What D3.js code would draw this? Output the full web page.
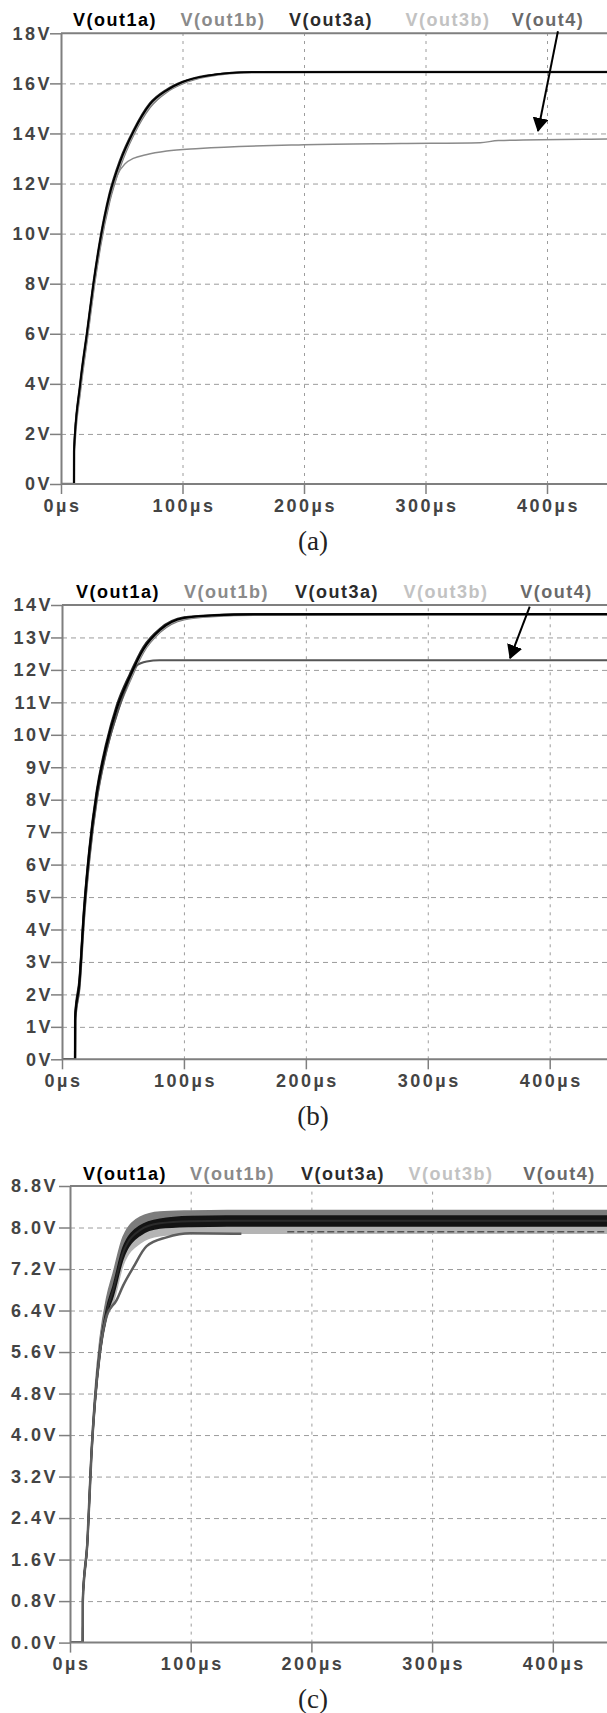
<!DOCTYPE html>
<html>
<head>
<meta charset="utf-8">
<script src="https://cdn.jsdelivr.net/npm/d3@7"></script>
<style>
body { margin: 0; background: #fff; }
text { font-family: "Liberation Sans", Arial, sans-serif; font-weight: bold; }
</style>
</head>
<body>
<div id="chart"></div>
<script>
// legend names + colours (same in all three panels)
var seriesNames = ['V(out1a)', 'V(out1b)', 'V(out3a)', 'V(out3b)', 'V(out4)'];
var legendColors = ['#000000', '#8a8a8a', '#2b2b2b', '#c2c2c2', '#6a6a6a'];
var timeTicks = [0, 100, 200, 300, 400];

// ---- panel (a) ----
var aTicks = [0, 2, 4, 6, 8, 10, 12, 14, 16, 18];
var aT     = [0, 10.7, 10.8, 15.6, 21.6, 26.6, 32, 39.8, 48.6, 59.5, 73, 87, 100, 120, 157, 250, 500];
var aOut1a = [0, 0, 1.4, 3.9, 6.1, 7.95, 9.65, 11.5, 12.85, 14.05, 15.15, 15.72, 16.05, 16.3, 16.45, 16.45, 16.45];
var aOut1b = [0, 0, 1.3, 3.7, 5.9, 7.75, 9.45, 11.3, 12.7, 13.95, 15.05, 15.67, 16.0, 16.28, 16.44, 16.45, 16.45];
var aOut3a = [0, 0, 1.5, 4.0, 6.2, 8.05, 9.75, 11.6, 12.95, 14.12, 15.2, 15.76, 16.07, 16.32, 16.46, 16.46, 16.46];
var aOut3b = [0, 0, 1.35, 3.8, 6.0, 7.85, 9.55, 11.4, 12.78, 14.0, 15.1, 15.7, 16.02, 16.3, 16.45, 16.45, 16.45];
var aOut4T = [0, 10.7, 10.8, 15.6, 21.6, 26.6, 32, 39.8, 46, 53, 59.5, 70, 87, 114, 200, 280, 345, 360, 450, 500];
var aOut4  = [0, 0, 1.3, 3.7, 5.9, 7.75, 9.45, 11.3, 12.3, 12.8, 13.0, 13.15, 13.3, 13.4, 13.55, 13.6, 13.63, 13.72, 13.78, 13.8];
var aArrow = [409, 18.08, 392.6, 14.1];

// ---- panel (b) ----
var bTicks = [0, 1, 2, 3, 4, 5, 6, 7, 8, 9, 10, 11, 12, 13, 14];
var bT     = [0, 10.7, 10.8, 14.2, 18, 22.4, 28.4, 36, 44.8, 55.7, 66.6, 80.3, 100, 125, 158, 300, 500];
var bOut1a = [0, 0, 1.3, 2.33, 4.54, 6.4, 8.17, 9.6, 10.8, 11.8, 12.63, 13.23, 13.6, 13.68, 13.71, 13.72, 13.72];
var bOut1b = [0, 0, 1.2, 2.2, 4.35, 6.2, 8.0, 9.45, 10.65, 11.68, 12.55, 13.17, 13.56, 13.66, 13.7, 13.71, 13.71];
var bOut3a = [0, 0, 1.4, 2.45, 4.65, 6.5, 8.27, 9.7, 10.9, 11.88, 12.7, 13.27, 13.62, 13.69, 13.72, 13.72, 13.72];
var bOut3b = [0, 0, 1.25, 2.25, 4.45, 6.3, 8.1, 9.5, 10.7, 11.72, 12.58, 13.2, 13.58, 13.67, 13.7, 13.71, 13.71];
var bOut4T = [0, 10.7, 10.8, 14.2, 18, 22.4, 28.4, 36, 44.8, 52, 61, 69.5, 80, 500];
var bOut4  = [0, 0, 1.2, 2.2, 4.35, 6.2, 8.0, 9.45, 10.6, 11.4, 12.13, 12.26, 12.3, 12.3];
var bArrow = [383.6, 13.95, 367.5, 12.36];

// ---- panel (c) ----
var cTicks = [0, 0.8, 1.6, 2.4, 3.2, 4.0, 4.8, 5.6, 6.4, 7.2, 8.0, 8.8];
var cT       = [0, 10.5, 10.6, 14.3, 17.9, 20.7, 24.8, 30.4, 35.8, 44, 58, 74.5, 100, 130, 500];
var cOut1bLo = [0, 0, 0.85, 1.92, 3.75, 4.72, 5.7, 6.45, 6.95, 7.62, 8.02, 8.16, 8.21, 8.22, 8.22];
var cOut1bHi = [0, 0, 0.95, 2.0, 3.85, 4.85, 5.85, 6.65, 7.12, 7.82, 8.2, 8.3, 8.32, 8.33, 8.33];
var cOut1aLo = [0, 0, 0.8, 1.85, 3.65, 4.6, 5.55, 6.3, 6.68, 7.4, 7.85, 7.99, 8.02, 8.03, 8.03];
var cOut1aHi = [0, 0, 0.85, 1.92, 3.72, 4.7, 5.68, 6.45, 6.88, 7.62, 8.03, 8.16, 8.21, 8.22, 8.22];
var cOut3bLo = [0, 0, 0.8, 1.82, 3.58, 4.55, 5.5, 6.25, 6.55, 7.28, 7.7, 7.84, 7.88, 7.89, 7.89];
var cOut3bHi = [0, 0, 0.8, 1.86, 3.62, 4.6, 5.56, 6.32, 6.68, 7.42, 7.86, 7.99, 8.02, 8.03, 8.03];
var cOut3a   = [0, 0, 0.82, 1.88, 3.68, 4.65, 5.62, 6.38, 6.8, 7.52, 7.95, 8.08, 8.12, 8.13, 8.13];
var cOut4T   = [0, 10.5, 10.6, 14.3, 17.9, 20.7, 24.8, 30.4, 38.6, 44, 52.4, 63.5, 80, 100, 142];
var cOut4    = [0, 0, 0.8, 1.89, 3.69, 4.66, 5.6, 6.3, 6.6, 6.88, 7.23, 7.64, 7.81, 7.89, 7.88];
var cTailT   = [180, 500];
var cTailV   = [7.92, 7.92];

var W = 607, H = 1713;

var panels = [
  { x0: 61, x400: 547, yTop: 33.3, yBottom: 484, yMax: 18, ticks: aTicks,
    fmt: function(d) { return d + 'V'; }, pad: 0,
    legendX: [114, 222, 330, 447, 547], legendY: 25.5,
    caption: '(a)', captionY: 550, arrow: aArrow,
    series: [
      { kind: 'line', t: aT, v: aOut1b, color: '#7a7a7a', width: 2.5 },
      { kind: 'line', t: aT, v: aOut3b, color: '#a8a8a8', width: 2 },
      { kind: 'line', t: aOut4T, v: aOut4, color: '#8a8a8a', width: 1.4 },
      { kind: 'line', t: aT, v: aOut3a, color: '#2b2b2b', width: 1.8 },
      { kind: 'line', t: aT, v: aOut1a, color: '#000000', width: 1.8 }
    ] },
  { x0: 62, x400: 549.7, yTop: 605, yBottom: 1059.3, yMax: 14, ticks: bTicks,
    fmt: function(d) { return d + 'V'; }, pad: 0,
    legendX: [117, 225.5, 336, 445, 555.5], legendY: 597.5,
    caption: '(b)', captionY: 1125, arrow: bArrow,
    series: [
      { kind: 'line', t: bT, v: bOut1b, color: '#7a7a7a', width: 2.5 },
      { kind: 'line', t: bT, v: bOut3b, color: '#a8a8a8', width: 2 },
      { kind: 'line', t: bOut4T, v: bOut4, color: '#555555', width: 2 },
      { kind: 'line', t: bT, v: bOut3a, color: '#2b2b2b', width: 2 },
      { kind: 'line', t: bT, v: bOut1a, color: '#000000', width: 2.2 }
    ] },
  { x0: 70, x400: 552.8, yTop: 1186, yBottom: 1642.6, yMax: 8.8, ticks: cTicks,
    fmt: function(d) { return d.toFixed(1) + 'V'; }, pad: 3,
    legendX: [124, 231.5, 342, 450, 558.5], legendY: 1179.5,
    caption: '(c)', captionY: 1708, arrow: null,
    series: [
      { kind: 'area', t: cT, lo: cOut1bLo, hi: cOut1bHi, color: '#7c7c7c' },
      { kind: 'area', t: cT, lo: cOut3bLo, hi: cOut3bHi, color: '#b4b4b4' },
      { kind: 'area', t: cT, lo: cOut1aLo, hi: cOut1aHi, color: '#141414' },
      { kind: 'line', t: cT, v: cOut3a, color: '#2b2b2b', width: 2 },
      { kind: 'dash', t: cTailT, v: cTailV, color: '#555555', width: 1.5 },
      { kind: 'line', t: cOut4T, v: cOut4, color: '#5e5e5e', width: 2.5 }
    ] }
];

var svg = d3.select('#chart').append('svg')
    .attr('width', W)
    .attr('height', H)
    .style('background', '#fff');

var defs = svg.append('defs');
defs.append('marker')
    .attr('id', 'head')
    .attr('viewBox', '0 0 14 16')
    .attr('refX', 13).attr('refY', 8)
    .attr('markerWidth', 14).attr('markerHeight', 16)
    .attr('markerUnits', 'userSpaceOnUse')
    .attr('orient', 'auto')
  .append('path')
    .attr('d', 'M0,0L14,8L0,16Z')
    .attr('fill', '#000');

panels.forEach(function(p, i) {
  var x = d3.scaleLinear().domain([0, 400]).range([p.x0, p.x400]);
  var y = d3.scaleLinear().domain([0, p.yMax]).range([p.yBottom, p.yTop]);
  var g = svg.append('g');

  defs.append('clipPath').attr('id', 'clip' + i)
    .append('rect')
      .attr('x', p.x0).attr('y', p.yTop - 10)
      .attr('width', W - p.x0).attr('height', p.yBottom - p.yTop + 10);

  // horizontal grid
  var hg = g.append('g')
      .attr('transform', 'translate(' + p.x0 + ',0)')
      .call(d3.axisLeft(y).tickValues(p.ticks.slice(1, -1)).tickSize(-(W - p.x0)).tickFormat(''));
  hg.select('.domain').remove();
  hg.selectAll('line').attr('stroke', '#9c9c9c').attr('stroke-dasharray', '5,4');

  // vertical grid
  var vg = g.append('g')
      .attr('transform', 'translate(0,' + p.yBottom + ')')
      .call(d3.axisBottom(x).tickValues(timeTicks.slice(1)).tickSize(-(p.yBottom - p.yTop)).tickFormat(''));
  vg.select('.domain').remove();
  vg.selectAll('line').attr('stroke', '#9c9c9c').attr('stroke-dasharray', '3,5');

  // traces
  var plot = g.append('g').attr('clip-path', 'url(#clip' + i + ')');
  var line = d3.line()
      .x(function(d) { return x(d[0]); })
      .y(function(d) { return y(d[1]); })
      .curve(d3.curveMonotoneX);
  var area = d3.area()
      .x(function(d) { return x(d[0]); })
      .y0(function(d) { return y(d[1]); })
      .y1(function(d) { return y(d[2]); })
      .curve(d3.curveMonotoneX);

  p.series.forEach(function(s) {
    if (s.kind === 'area') {
      var pts = d3.zip(s.t, s.lo, s.hi);
      plot.append('path').attr('d', area(pts)).attr('fill', s.color);
      plot.append('path').attr('d', line(d3.zip(s.t, s.lo)))
        .attr('fill', 'none').attr('stroke', s.color).attr('stroke-width', 1.5);
      plot.append('path').attr('d', line(d3.zip(s.t, s.hi)))
        .attr('fill', 'none').attr('stroke', s.color).attr('stroke-width', 1.5);
    } else {
      plot.append('path')
        .attr('d', line(d3.zip(s.t, s.v)))
        .attr('fill', 'none')
        .attr('stroke', s.color)
        .attr('stroke-width', s.width)
        .attr('stroke-dasharray', s.kind === 'dash' ? '7,3' : null);
    }
  });

  // frame lines
  g.append('line')
    .attr('x1', p.x0).attr('x2', W).attr('y1', p.yTop).attr('y2', p.yTop)
    .attr('stroke', '#7f7f7f').attr('stroke-width', 2);
  g.append('line')
    .attr('x1', p.x0).attr('x2', W).attr('y1', p.yBottom).attr('y2', p.yBottom)
    .attr('stroke', '#7f7f7f').attr('stroke-width', 2);

  // y axis
  var ya = g.append('g')
      .attr('transform', 'translate(' + p.x0 + ',0)')
      .call(d3.axisLeft(y).tickValues(p.ticks).tickFormat(p.fmt).tickSize(11).tickSizeOuter(0).tickPadding(p.pad));
  ya.select('.domain').attr('stroke', '#7f7f7f').attr('stroke-width', 2);
  ya.selectAll('line').attr('stroke', '#7f7f7f').attr('stroke-width', 1.5);
  ya.selectAll('text')
    .attr('fill', '#444').attr('dx', '2px').style('font-size', '18px').style('letter-spacing', '2.5px')
    .style('font-family', '"Liberation Sans", Arial, sans-serif').style('font-weight', 'bold');

  // x axis
  var xa = g.append('g')
      .attr('transform', 'translate(0,' + p.yBottom + ')')
      .call(d3.axisBottom(x).tickValues(timeTicks).tickFormat(function(d) { return d + '\u00b5s'; }).tickSize(10).tickPadding(5));
  xa.select('.domain').remove();
  xa.selectAll('line').attr('stroke', '#7f7f7f').attr('stroke-width', 1.5);
  xa.selectAll('text')
    .attr('fill', '#444').attr('dx', '1px').style('font-size', '18px').style('letter-spacing', '2.5px')
    .style('font-family', '"Liberation Sans", Arial, sans-serif').style('font-weight', 'bold');

  // legend names on top
  g.selectAll('.legend')
    .data(seriesNames)
    .enter().append('text')
      .attr('x', function(d, k) { return p.legendX[k] + 1; })
      .attr('y', p.legendY)
      .attr('text-anchor', 'middle')
      .attr('fill', function(d, k) { return legendColors[k]; })
      .style('font-size', '18px')
      .style('letter-spacing', '1.5px')
      .text(function(d) { return d; });

  // arrow from V(out4) to its trace
  if (p.arrow) {
    g.append('line')
      .attr('x1', x(p.arrow[0])).attr('y1', y(p.arrow[1]))
      .attr('x2', x(p.arrow[2])).attr('y2', y(p.arrow[3]))
      .attr('stroke', '#000').attr('stroke-width', 2)
      .attr('marker-end', 'url(#head)');
  }

  // caption
  g.append('text')
    .attr('x', 313).attr('y', p.captionY)
    .attr('text-anchor', 'middle')
    .attr('fill', '#222')
    .style('font-family', '"Liberation Serif", "Times New Roman", serif')
    .style('font-weight', 'normal')
    .style('font-size', '27px')
    .text(p.caption);
});
</script>
</body>
</html>
